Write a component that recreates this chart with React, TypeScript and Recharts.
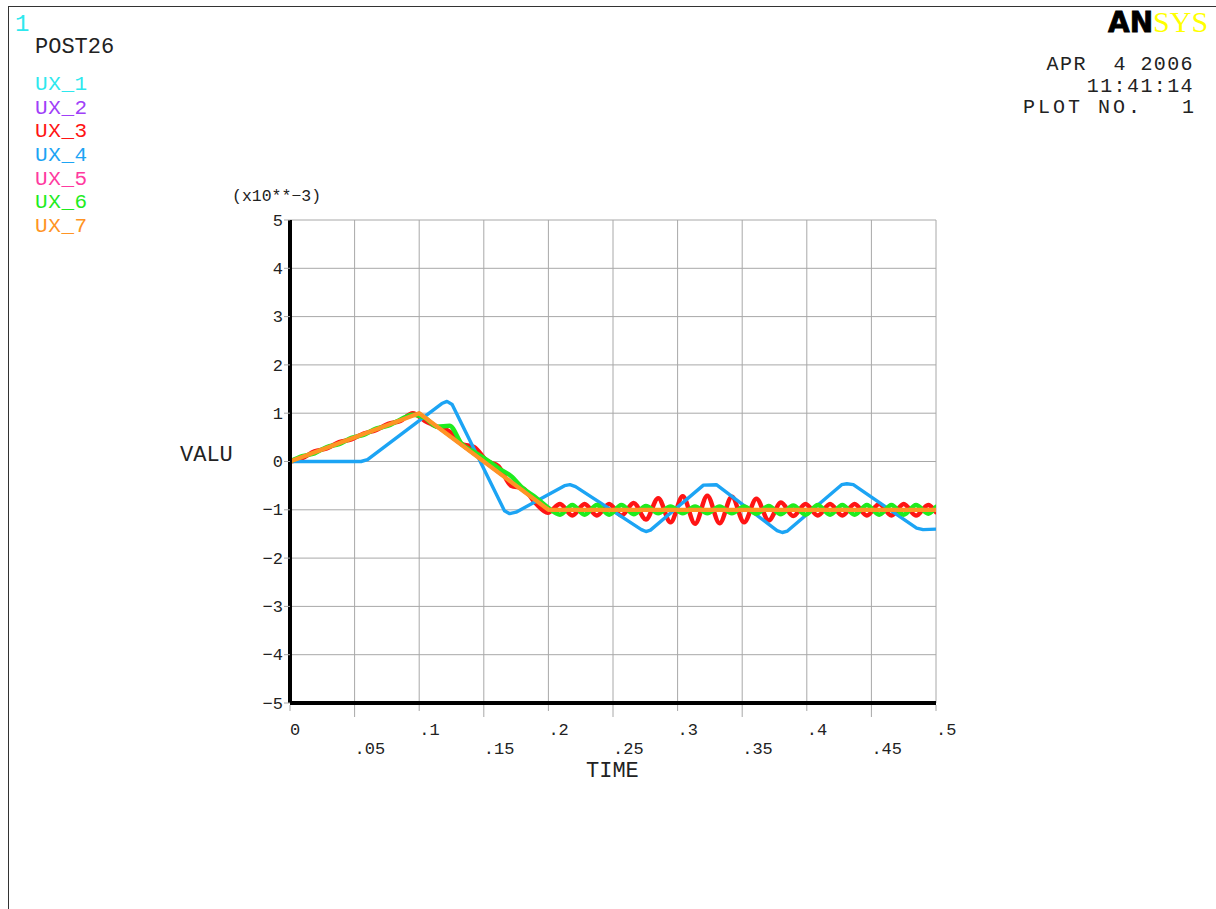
import { LineChart, Line, XAxis, YAxis, CartesianGrid } from 'recharts';

// Time axis ticks and their printed labels (ANSYS style, no leading zero)
const xTicks = [0, 0.05, 0.1, 0.15, 0.2, 0.25, 0.3, 0.35, 0.4, 0.45, 0.5];
const xTickLabels = ['0', '.05', '.1', '.15', '.2', '.25', '.3', '.35', '.4', '.45', '.5'];

// Value axis, in units of 10**-3
const yTicks = [-5, -4, -3, -2, -1, 0, 1, 2, 3, 4, 5];
const yTickLabels = ['\u22125', '\u22124', '\u22123', '\u22122', '\u22121', '0', '1', '2', '3', '4', '5'];

// Imposed ramp displacement (UX_7), also used by the nodes that sit under it
const rampTime = [0, 0.1, 0.2, 0.5];
const rampVals = [0, 1.0, -1.0, -1.0];

// Sample times for the oscillating nodes (peaks and troughs)
const oscTime = [
  0, 0.0095, 0.019, 0.0285, 0.038, 0.0475, 0.057, 0.0665, 0.076, 0.0855,
  0.095, 0.1045, 0.114, 0.1235, 0.133, 0.1425, 0.152, 0.1615, 0.171, 0.1805,
  0.19, 0.1995, 0.209, 0.2185, 0.228, 0.2375, 0.247, 0.2565, 0.266, 0.2755,
  0.285, 0.2945, 0.304, 0.3135, 0.323, 0.3325, 0.342, 0.3515, 0.361, 0.3705,
  0.38, 0.3895, 0.399, 0.4085, 0.418, 0.4275, 0.437, 0.4465, 0.456, 0.4655,
  0.475, 0.4845, 0.494, 0.5,
];

const ux3Vals = [
  0, 0.07, 0.21, 0.27, 0.4, 0.46, 0.58, 0.65, 0.78, 0.84,
  1.0, 0.84, 0.72, 0.62, 0.36, 0.3, 0.02, -0.1, -0.5, -0.56,
  -0.86, -1.06, -0.88, -1.12, -0.88, -1.12, -0.88, -1.12, -0.86, -1.2,
  -0.76, -1.26, -0.72, -1.29, -0.71, -1.28, -0.73, -1.26, -0.77, -1.22,
  -0.85, -1.13, -0.88, -1.12, -0.88, -1.12, -0.88, -1.12, -0.88, -1.12,
  -0.88, -1.12, -0.9, -1.05,
];

const ux6Vals = [
  0, 0.11, 0.17, 0.3, 0.36, 0.49, 0.55, 0.68, 0.74, 0.87,
  0.97, 0.9, 0.72, 0.74, 0.36, 0.2, 0.04, -0.14, -0.3, -0.56,
  -0.74, -0.95, -1.1, -0.9, -1.1, -0.9, -1.1, -0.9, -1.09, -0.92,
  -1.07, -0.93, -1.07, -0.93, -1.07, -0.93, -1.07, -0.93, -1.08, -0.92,
  -1.09, -0.91, -1.1, -0.9, -1.1, -0.9, -1.1, -0.9, -1.1, -0.9,
  -1.1, -0.9, -1.08, -0.94,
];

// UX_4 lags behind and swings with a long period
const ux4Time = [
  0, 0.055, 0.06, 0.1175, 0.1215, 0.1255, 0.166, 0.17, 0.175, 0.2125,
  0.2167, 0.221, 0.272, 0.2755, 0.279, 0.32, 0.33, 0.377, 0.381, 0.385,
  0.427, 0.431, 0.436, 0.485, 0.49, 0.5,
];
const ux4Vals = [
  0, 0, 0.04, 1.2, 1.245, 1.18, -1.02, -1.08, -1.05, -0.5,
  -0.48, -0.52, -1.41, -1.45, -1.42, -0.49, -0.48, -1.43, -1.47, -1.44,
  -0.48, -0.46, -0.48, -1.38, -1.41, -1.4,
];

const toPoints = (ts: number[], vs: number[]) => ts.map((t, i) => ({ t, v: vs[i] }));

const series = [
  { name: 'UX_1', color: '#2ee8ee', data: toPoints(rampTime, rampVals), curve: 'linear', width: 3 },
  { name: 'UX_2', color: '#a040f8', data: toPoints(rampTime, rampVals), curve: 'linear', width: 3 },
  { name: 'UX_3', color: '#ff1414', data: toPoints(oscTime, ux3Vals), curve: 'monotone', width: 4.5 },
  { name: 'UX_4', color: '#1ca4f4', data: toPoints(ux4Time, ux4Vals), curve: 'linear', width: 3.4 },
  { name: 'UX_5', color: '#ff3aa0', data: toPoints(rampTime, rampVals), curve: 'linear', width: 3 },
  { name: 'UX_6', color: '#1eec1e', data: toPoints(oscTime, ux6Vals), curve: 'monotone', width: 4.5 },
  { name: 'UX_7', color: '#ff9424', data: toPoints(rampTime, rampVals), curve: 'linear', width: 4.2 },
];

const MONO = '"Liberation Mono", "DejaVu Sans Mono", monospace';
const INK = '#222';
const GRID = '#a8a8a8';
const NBSP = '\u00a0';

function TimeTick(props: any) {
  const { x, y, payload } = props;
  const i = xTicks.indexOf(payload.value);
  const low = i % 2 === 1;
  return (
    <g>
      <line x1={x} y1={y} x2={x} y2={y + (low ? 12 : 6)} stroke={GRID} strokeWidth={1} />
      <text x={x} y={y + (low ? 48.6 : 30)} fontFamily={MONO} fontSize={17} fill={INK} textAnchor="start">
        {xTickLabels[i]}
      </text>
    </g>
  );
}

function ValueTick(props: any) {
  const { x, y, payload } = props;
  const i = yTicks.indexOf(payload.value);
  return (
    <text x={x} y={y + 5.6} fontFamily={MONO} fontSize={17} fill={INK} textAnchor="end">
      {yTickLabels[i]}
    </text>
  );
}

export default function App() {
  return (
    <div style={{ position: 'absolute', left: 0, top: 0, width: 1216, height: 909, background: '#fff', overflow: 'hidden' }}>
      <div
        style={{
          position: 'absolute', left: 8, top: 6, width: 1210, height: 905,
          borderTop: '1.5px solid #333', borderLeft: '1.5px solid #333',
        }}
      />
      <div style={{ position: 'absolute', left: 0, top: 0 }}>
        <LineChart width={1216} height={909} margin={{ top: 220, right: 280, bottom: 146, left: 230 }}>
          <CartesianGrid stroke={GRID} strokeWidth={1} />
          <XAxis
            type="number"
            dataKey="t"
            domain={[0, 0.5]}
            ticks={xTicks}
            interval={0}
            height={60}
            tickSize={0}
            tickLine={false}
            tick={(p: any) => <TimeTick {...p} />}
            axisLine={{ stroke: '#000', strokeWidth: 4 }}
            allowDataOverflow
          />
          <YAxis
            type="number"
            domain={[-5, 5]}
            ticks={yTicks}
            interval={0}
            width={60}
            tickSize={6}
            tickMargin={1}
            tickLine={{ stroke: GRID, strokeWidth: 1 }}
            tick={(p: any) => <ValueTick {...p} />}
            axisLine={{ stroke: '#000', strokeWidth: 4 }}
            allowDataOverflow
          />
          {series.map((s) => (
            <Line
              key={s.name}
              name={s.name}
              data={s.data}
              dataKey="v"
              type={s.curve as any}
              stroke={s.color}
              strokeWidth={s.width}
              strokeLinejoin="round"
              strokeLinecap="round"
              dot={false}
              activeDot={false}
              isAnimationActive={false}
            />
          ))}
        </LineChart>
      </div>

      {/* page annotations */}
      <svg width={1216} height={909} style={{ position: 'absolute', left: 0, top: 0, pointerEvents: 'none' }}>
        <g fontFamily={MONO}>
          <text x={15} y={31.4} fontSize={24} fill="#2ee8ee">1</text>
          <text x={35} y={53.3} fontSize={22} fill={INK}>POST26</text>
          {series.map((s, i) => (
            <text key={s.name} x={35} y={90 + i * 23.65} fontSize={21} letterSpacing={0.6} fill={s.color}>
              {s.name}
            </text>
          ))}

          <text x={1194} y={70.3} fontSize={20} letterSpacing={1.4} fill={INK} textAnchor="end">
            {`APR${NBSP}${NBSP}4${NBSP}2006`}
          </text>
          <text x={1194} y={91.8} fontSize={20} letterSpacing={1.4} fill={INK} textAnchor="end">11:41:14</text>
          <text x={1023} y={113.3} fontSize={20} letterSpacing={3} fill={INK}>{`PLOT${NBSP}NO.`}</text>
          <text x={1194} y={113.3} fontSize={20} fill={INK} textAnchor="end">1</text>

          <text x={232} y={200.5} fontSize={16.5} fill={INK}>{'(x10**\u22123)'}</text>
          <text x={180} y={461.3} fontSize={22} fill={INK}>VALU</text>
          <text x={586} y={777} fontSize={22} fill={INK}>TIME</text>
        </g>
        <text x={1108} y={32}>
          <tspan fontFamily='"DejaVu Sans", sans-serif' fontWeight="900" fontSize={28} fill="#000" stroke="#000" strokeWidth={0.8}>AN</tspan>
          <tspan fontFamily='"Liberation Serif", serif' fontSize={30} fill="#ffff00">SYS</tspan>
        </text>
      </svg>
    </div>
  );
}
